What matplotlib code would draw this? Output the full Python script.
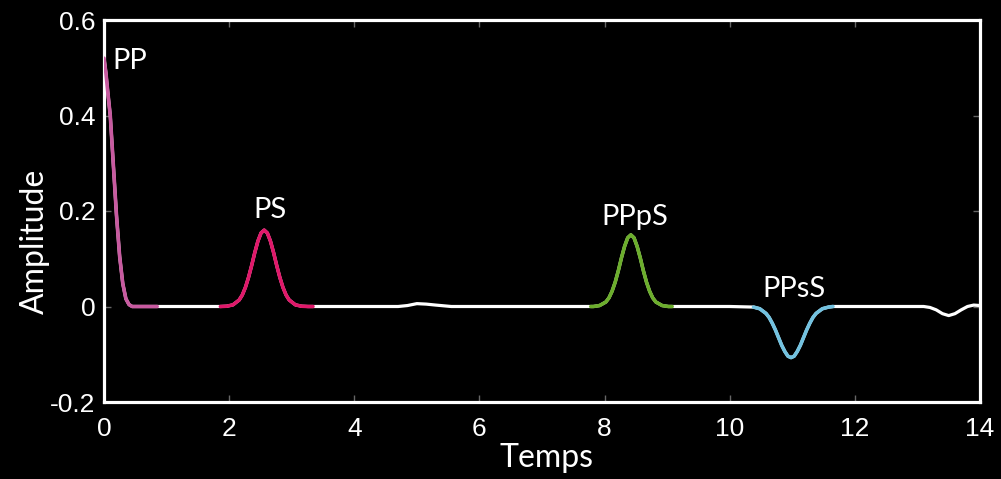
import numpy as np
import matplotlib
matplotlib.use('Agg')
import matplotlib.pyplot as plt

# --- data ---
pp_t = [0.0, 0.03, 0.06, 0.10, 0.15, 0.20, 0.25, 0.30, 0.35, 0.40, 0.45, 0.50, 0.85]
pp_amp = [0.52, 0.49, 0.45, 0.40, 0.295, 0.19, 0.105, 0.048, 0.016, 0.004, 0.0, 0.0, 0.0]

gap1_t = [1.2, 1.6]
gap1_amp = [0.0, 0.0]

ps_t = [1.86, 1.96, 2.06, 2.16, 2.21, 2.26, 2.31, 2.36, 2.41, 2.46, 2.51, 2.56,
        2.61, 2.66, 2.71, 2.76, 2.81, 2.86, 2.91, 2.96, 3.06, 3.16, 3.26, 3.34]
ps_amp = [0.0, 0.0006, 0.0034, 0.0136, 0.024, 0.040, 0.061, 0.086, 0.113, 0.137, 0.154, 0.160,
          0.154, 0.137, 0.113, 0.086, 0.061, 0.040, 0.024, 0.0136, 0.0034, 0.0006, 0.0, 0.0]

mid_t = [4.0, 4.7, 4.85, 5.0, 5.15, 5.3, 5.55, 6.5]
mid_amp = [0.0, 0.0, 0.002, 0.006, 0.005, 0.003, 0.0, 0.0]

ppps_t = [7.78, 7.82, 7.92, 8.02, 8.07, 8.12, 8.17, 8.22, 8.27, 8.32, 8.37, 8.42,
          8.47, 8.52, 8.57, 8.62, 8.67, 8.72, 8.77, 8.82, 8.92, 9.02, 9.08]
ppps_amp = [0.0, 0.0, 0.002, 0.0094, 0.018, 0.032, 0.051, 0.075, 0.102, 0.126, 0.144, 0.150,
            0.144, 0.126, 0.102, 0.075, 0.051, 0.032, 0.018, 0.0094, 0.002, 0.0, 0.0]

gap2_t = [9.5, 10.0]
gap2_amp = [0.0, 0.0]

ppss_t = [10.38, 10.48, 10.58, 10.63, 10.68, 10.73, 10.78, 10.83, 10.88, 10.93, 10.98,
          11.03, 11.08, 11.13, 11.18, 11.23, 11.28, 11.33, 11.38, 11.48, 11.58, 11.65]
ppss_amp = [-0.0012, -0.0047, -0.0145, -0.023, -0.035, -0.049, -0.065, -0.081, -0.094, -0.104, -0.107,
            -0.104, -0.094, -0.081, -0.065, -0.049, -0.035, -0.023, -0.0145, -0.0047, -0.0012, 0.0]

tail_t = [12.5, 13.1, 13.2, 13.3, 13.4, 13.5, 13.6, 13.7, 13.8, 13.9, 14.0]
tail_amp = [0.0, 0.0, -0.002, -0.007, -0.015, -0.019, -0.015, -0.007, 0.0, 0.003, 0.002]

phases = ['PP', 'PS', 'PPpS', 'PPsS']
windows = [(0.0, 0.85), (1.86, 3.34), (7.78, 9.08), (10.38, 11.65)]
colors = ['#c85aa0', '#e0186a', '#6cae2c', '#72c2e0']
label_pos = [(0.14, 0.498), (2.65, 0.186), (8.48, 0.170), (11.03, 0.019)]
label_ha = ['left', 'center', 'center', 'center']

t = np.array(pp_t + gap1_t + ps_t + mid_t + ppps_t + gap2_t + ppss_t + tail_t)
amp = np.array(pp_amp + gap1_amp + ps_amp + mid_amp + ppps_amp + gap2_amp + ppss_amp + tail_amp)

# --- figure ---
fig = plt.figure(figsize=(10.01, 4.79), dpi=100, facecolor='black')
ax = fig.add_axes([104/1001, 1-402/479, 876/1001, 382/479], facecolor='black')

ax.plot(t, amp, color='white', lw=2.3, solid_capstyle='round', solid_joinstyle='round', zorder=2)
for (t0, t1), c in zip(windows, colors):
    m = (t >= t0) & (t <= t1)
    ax.plot(t[m], amp[m], color=c, lw=2.6, solid_capstyle='round', solid_joinstyle='round', zorder=3)

for name, (x, y), ha in zip(phases, label_pos, label_ha):
    ax.text(x, y, name, ha=ha, va='baseline', color='white', fontsize=21, family='Lato')

ax.set_xlim(0, 14)
ax.set_ylim(-0.2, 0.6)
ax.set_xticks(np.arange(0, 15, 2))
ax.set_yticks([-0.2, 0, 0.2, 0.4, 0.6])
ax.set_yticklabels(['-0.2', '0', '0.2', '0.4', '0.6'])

for s in ax.spines.values():
    s.set_color('white')
    s.set_linewidth(2.3)

ax.tick_params(axis='both', direction='in', top=True, right=True, length=5, width=1,
               color='#666666', labelcolor='white', labelsize=19)
ax.tick_params(axis='x', pad=11)
ax.tick_params(axis='y', pad=6)
for lab in ax.get_xticklabels() + ax.get_yticklabels():
    lab.set_family('Liberation Sans')

fig.text(35/1001, 1-241/479, 'Amplitude', rotation=90, ha='center', va='center',
         color='white', fontsize=23, family='Lato')
fig.text(546/1001, 1-458/479, 'Temps', ha='center', va='center',
         color='white', fontsize=23, family='Lato')

fig.savefig('out.png', dpi=100, facecolor='black')
